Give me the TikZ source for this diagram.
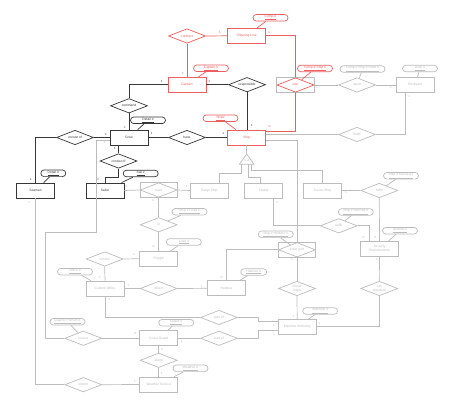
\documentclass[tikz,border=0pt]{standalone}
\usepackage{fontspec}
\setmainfont{Liberation Sans}
\usetikzlibrary{shapes.geometric}
\definecolor{cred}{RGB}{236,95,95}
\definecolor{cdark}{RGB}{55,55,55}
\definecolor{cgray}{RGB}{188,188,188}
\begin{document}
\begin{tikzpicture}[x=1pt,y=-1pt,
  base/.style={font=\fontsize{3.3}{3.8}\selectfont, inner sep=0pt, line width=0.7pt, align=center},
  ent/.style={base, draw, rectangle, minimum width=38pt, minimum height=15pt},
  rel/.style={base, draw, diamond, aspect=2.5, minimum width=37pt, minimum height=14.5pt},
  abox/.style={base, draw, rectangle, minimum width=37.5pt, minimum height=14.5pt},
  attr/.style={base, draw, rectangle, rounded corners=3.3pt, minimum width=35pt, minimum height=6.6pt, inner xsep=2pt},
  card/.style={font=\fontsize{3}{3.5}\selectfont, inner sep=0pt},
  redc/.style={draw=cred, text=cred},
  darkc/.style={draw=cdark, text=cdark},
  grayc/.style={draw=cgray, text=cgray},
  lred/.style={draw=cred, line width=0.7pt},
  ldark/.style={draw=cdark, line width=0.7pt},
  lgray/.style={draw=cgray, line width=0.7pt},
  tred/.style={card, text=cred},
  tdark/.style={card, text=cdark},
  tgray/.style={card, text=cgray}
]
\fill[white] (0,0) rectangle (454,406);
\useasboundingbox (0,0) rectangle (454,406);

% ---------- red part ----------
\node[ent,redc] (SL) at (246.7,35.8) {Shipping Line};
\node[attr,redc] (aComp) at (270.5,17.8) {\underline{Comp.\#}};
\node[rel,redc] (contract) at (187,36) {contract};
\node[ent,redc] (Captain) at (187,84.7) {Captain};
\node[attr,redc] (aCapt) at (211,68.3) {\underline{Captain \#}};
\node[ent,redc] (Ship) at (246.7,137.5) {Ship};
\node[attr,redc] (aShip) at (220.5,118.3) {\underline{Ship\#}};
\node[abox,grayc] (ownbox) at (295.5,85) {};
\node[rel,redc] (own) at (295.5,85) {own};
\node[attr,redc] (aOwn) at (315,68.5) {\underline{Comp.\# Ship \#}};

% ---------- dark part ----------
\node[rel,darkc] (resp) at (247,84.7) {responsible};
\node[rel,darkc] (have) at (187,137.5) {have};
\node[ent,darkc] (Crew) at (129,137.5) {Crew};
\node[attr,darkc] (aCrew) at (148,120.3) {\underline{Detail \#}};
\node[rel,darkc] (command) at (129,105.8) {command};
\node[rel,darkc] (cons1) at (75,137.5) {consist of};
\node[ent,darkc] (Seaman) at (35.5,190.5) {Seaman};
\node[attr,darkc,minimum width=25pt] (aSea) at (53.3,173.3) {\underline{Detail \#}};
\node[rel,darkc] (cons2) at (118.5,161) {consist of};
\node[ent,darkc] (Sailor) at (105,190.5) {Sailor};
\node[attr,darkc] (aSail) at (140.7,173.5) {\underline{Sail \#}};

% ---------- gray part ----------
\node[rel,grayc] (repair) at (357,85) {repair};
\node[attr,grayc,minimum width=45pt] (aRep) at (362.5,69) {\underline{Comp.\# Ship \# Dock \#}};
\node[ent,grayc] (Dock) at (415,85) {Dockyard};
\node[attr,grayc] (aDock) at (420,68.5) {\underline{Dock \#}};
\node[rel,grayc] (build) at (357,134.5) {build};

\coordinate (isaL) at (239.3,164.3);
\coordinate (isaT) at (246.7,154);
\coordinate (isaR) at (254,164.3);
\draw[lgray] (isaL) -- (isaT) -- (isaR) -- cycle;
\node[card,text=cgray] (isatxt) at (246.7,160.8) {is a};
\coordinate (isa1) at (241.7,164.3);
\coordinate (isa2) at (248.3,164.3);
\coordinate (isa3) at (251.7,164.3);

\node[ent,grayc] (Cargo) at (209.2,190.5) {Cargo Ship};
\node[ent,grayc] (Tanker) at (263.8,190.5) {Tanker};
\node[ent,grayc] (Cruise) at (322.5,190.5) {Cruise Ship};
\node[abox,grayc] (loadbox) at (158.7,190) {};
\node[rel,grayc] (load) at (158.7,190) {load};
\node[attr,grayc] (aLoad1) at (189.5,211.7) {\underline{Ship \# Load \#}};
\node[rel,grayc] (in) at (158.7,224.8) {in};
\node[attr,grayc] (aLoad2) at (183.8,242) {\underline{Load \#}};
\node[ent,grayc] (Freight) at (158.7,258.7) {Freight};
\node[rel,grayc] (control) at (104.7,259) {control};
\node[ent,grayc] (CO) at (105,288.5) {Custom Office};
\node[attr,grayc] (aOff) at (75,271.7) {\underline{Office \#}};
\node[rel,grayc] (inform1) at (158.7,288.5) {inform};
\node[ent,grayc] (Harbour) at (226.5,288.3) {Harbour};
\node[attr,grayc,minimum width=26pt] (aHar) at (253.7,272) {\underline{Harbour \#}};
\node[abox,grayc] (enterbox) at (297,249.8) {};
\node[rel,grayc] (enter) at (297,249.8) {enter port};
\node[attr,grayc] (aEnt) at (275.8,234.3) {\underline{Ship \# Harbour \#}};
\node[rel,grayc] (check) at (297,288.5) {check\\origin};
\node[ent,grayc] (MA) at (297.2,326.8) {Maritime Authority};
\node[attr,grayc] (aMA) at (320.2,311) {\underline{Authority \#}};
\node[rel,grayc] (fulfill1) at (379.3,190.5) {fulfill};
\node[attr,grayc] (aF1) at (401,175.8) {\underline{Ship \# SecReq \#}};
\node[rel,grayc] (fulfill2) at (338.7,225.8) {fulfill};
\node[attr,grayc] (aF2) at (355.8,212) {\underline{Ship \# SecReq \#}};
\node[ent,grayc] (SR) at (379.5,249) {Security\\Requirements};
\node[attr,grayc] (aSR) at (400,230.7) {\underline{SecReq \#}};
\node[rel,grayc] (setstd) at (379.3,288.5) {set\\standard};
\node[rel,grayc] (partof1) at (219,317.5) {part of};
\node[rel,grayc] (partof2) at (219,338.3) {part of};
\node[ent,grayc] (CG) at (158.7,338.3) {Coast Guard};
\node[attr,grayc] (aCG) at (176.3,322.7) {\underline{Guard \#}};
\node[rel,grayc] (alarm) at (158.7,360.3) {alarm};
\node[ent,grayc] (WS) at (158.7,384.5) {Weather Service};
\node[attr,grayc] (aWS) at (190.5,368.3) {\underline{Weather \#}};
\node[rel,grayc] (rescue) at (83.3,338.3) {rescue};
\node[attr,grayc] (aRes) at (67.5,321.7) {\underline{Guard \# Person \#}};
\node[rel,grayc] (inform2) at (83.3,384.7) {inform};
\coordinate (r1) at (96.7,232.7);
\coordinate (r2) at (45,232.7);

% ---------- connectors: red ----------
\draw[lred] (contract.east) -- (SL.west);
\draw[lred] (contract.south) -- (Captain.north);
\draw[lred] (SL.east) -| (own.north);
\draw[lred] (own.south) |- ([yshift=6pt]Ship.east);
\draw[lred] (aComp) -- (SL);
\draw[lred] (aCapt) -- (Captain);
\draw[lred] (aShip) -- (Ship);
\draw[lred] (aOwn) -- (own);

% ---------- connectors: dark ----------
\draw[ldark] (Captain.east) -- (resp.west);
\draw[ldark] (resp.south) -- (resp.south |- Ship.north);
\draw[ldark] (command.north) |- (Captain.west);
\draw[ldark] (command.south) -- (Crew.north);
\draw[ldark] (Crew.east) -- (have.west);
\draw[ldark] (have.east) -- (Ship.west);
\draw[ldark] (Crew.west) -- (cons1.east);
\draw[ldark] (cons1.west) -| (Seaman.north);
\draw[ldark] (cons2.north) -- (cons2.north |- Crew.south);
\draw[ldark] (cons2.south) -- ++(0,8.5) -| (Sailor.north);
\draw[ldark] (aCrew) -- (Crew);
\draw[ldark] (aSea) -- (Seaman);
\draw[ldark] (aSail) -- (Sailor);

% ---------- connectors: gray ----------
\draw[lgray] (ownbox.east) -- (repair.west);
\draw[lgray] (repair.east) -- (Dock.west);
\draw[lgray] ([yshift=3pt]Ship.east) -- (build.west);
\draw[lgray] (build.east) -| ([xshift=-10pt]Dock.south);
\draw[lgray] ([yshift=-2.5pt]Ship.east) -| (enter.north);
\draw[lgray] (Ship.south) -- (isaT);
\draw[lgray] (isa1) -- ++(0,9) -| ([xshift=10pt]Cargo.north);
\draw[lgray] (isa2) -- ++(0,13) -| ([xshift=-3.8pt]Tanker.north);
\draw[lgray] (isa3) -- ++(0,5.7) -| (Cruise.north);
\draw[lgray] (Sailor.east) -- (loadbox.west);
\draw[lgray] (loadbox.east) -- (Cargo.west);
\draw[lgray] (load.south) -- (in.north);
\draw[lgray] (in.south) -- (Freight.north);
\draw[lgray] (control.east) -- (Freight.west);
\draw[lgray] (control.south) -- (CO.north);
\draw[lgray] (CO.east) -- (inform1.west);
\draw[lgray] (inform1.east) -- (Harbour.west);
\draw[lgray] (Harbour.north) |- (enterbox.west);
\draw[lgray] (enter.south) -- (check.north);
\draw[lgray] (check.south) -- (MA.north);
\draw[lgray] ([xshift=10pt]Tanker.south) |- (fulfill2.west);
\draw[lgray] (fulfill2.east) -| ([xshift=-10pt]SR.north);
\draw[lgray] (Cruise.east) -- (fulfill1.west);
\draw[lgray] (fulfill1.south) -- (SR.north);
\draw[lgray] (SR.south) -- (setstd.north);
\draw[lgray] (setstd.south) |- (MA.east);
\draw[lgray] (CO.south) |- (partof1.west);
\draw[lgray] (partof1.east) -- ++(20,0) |- ([yshift=5.8pt]MA.west);
\draw[lgray] (CG.east) -- (partof2.west);
\draw[lgray] (partof2.east) -- ++(20,0) |- ([yshift=-4pt]MA.west);
\draw[lgray] ([yshift=-2.5pt]Crew.west) -| (r1) -- (r2) |- (rescue.west);
\draw[lgray] (rescue.east) -- (CG.west);
\draw[lgray] (Seaman.south) |- (inform2.west);
\draw[lgray] (inform2.east) -- (WS.west);
\draw[lgray] (CG.south) -- (alarm.north);
\draw[lgray] (alarm.south) -- (WS.north);
\draw[lgray] (aRep) -- (repair);
\draw[lgray] (aDock) -- (Dock);
\draw[lgray] (aLoad1) -- (in);
\draw[lgray] (aLoad2) -- (Freight);
\draw[lgray] (aOff) -- (CO);
\draw[lgray] (aHar) -- (Harbour);
\draw[lgray] (aEnt) -- (enter);
\draw[lgray] (aMA) -- (MA);
\draw[lgray] (aF1) -- (fulfill1);
\draw[lgray] (aF2) -- (fulfill2);
\draw[lgray] (aSR) -- (SR);
\draw[lgray] (aCG) -- (CG);
\draw[lgray] (aWS) -- (WS);
\draw[lgray] (aRes) -- (rescue);

% ---------- cardinalities ----------
\node[tred] (k1) at (220,32.3) {1};
\node[tred] (k2) at (269.3,32.3) {n};
\node[tred] (k3) at (182.7,74) {n};
\node[tred] (k4) at (269.3,126.7) {m};
\node[tdark] (k5) at (161.7,81) {1};
\node[tdark] (k6) at (125,127.3) {1};
\node[tdark] (k7) at (209.3,81) {1};
\node[tdark] (k8) at (251.7,125) {1};
\node[tdark] (k9) at (151.7,133.3) {1};
\node[tdark] (k10) at (223.3,133.3) {1};
\node[tdark] (k11) at (106,134.3) {1};
\node[tdark] (k12) at (31,179.3) {1};
\node[tdark] (k13) at (115,148) {1};
\node[tdark] (k14) at (98.3,179.3) {n};
\node[tgray] (k15) at (268.3,132.7) {n};
\node[tgray] (k16) at (268.3,141.3) {n};
\node[tgray] (k17) at (409.3,96) {1};
\node[tgray] (k18) at (316.7,87.3) {n};
\node[tgray] (k19) at (390.7,87.3) {n};
\node[tgray] (k20) at (105,142.7) {1};
\node[tgray] (k21) at (29.3,202.7) {n};
\node[tgray] (k22) at (126,186.7) {n};
\node[tgray] (k23) at (186.7,186.7) {1};
\node[tgray] (k24) at (153.3,200.7) {n};
\node[tgray] (k25) at (153.3,246.7) {m};
\node[tgray] (k26) at (134.3,255) {n};
\node[tgray] (k27) at (100,277.3) {1};
\node[tgray] (k28) at (128.3,285) {1};
\node[tgray] (k29) at (201.7,286) {1};
\node[tgray] (k30) at (221.7,277.3) {m};
\node[tgray] (k31) at (276.7,202.7) {n};
\node[tgray] (k32) at (345.7,192.7) {n};
\node[tgray] (k33) at (363.3,237.7) {m};
\node[tgray] (k34) at (375,237.7) {m};
\node[tgray] (k35) at (376.7,259.3) {n};
\node[tgray] (k36) at (291.7,259.3) {n};
\node[tgray] (k37) at (293.3,316) {1};
\node[tgray] (k38) at (319.3,323.3) {1};
\node[tgray] (k39) at (274,325) {1};
\node[tgray] (k40) at (274,334) {1};
\node[tgray] (k41) at (109.3,299.3) {1};
\node[tgray] (k42) at (181.7,341.7) {1};
\node[tgray] (k43) at (135,334) {m};
\node[tgray] (k44) at (161.7,349.3) {n};
\node[tgray] (k45) at (161.7,373.3) {1};
\node[tgray] (k46) at (135,381.7) {1};
\end{tikzpicture}
\end{document}
